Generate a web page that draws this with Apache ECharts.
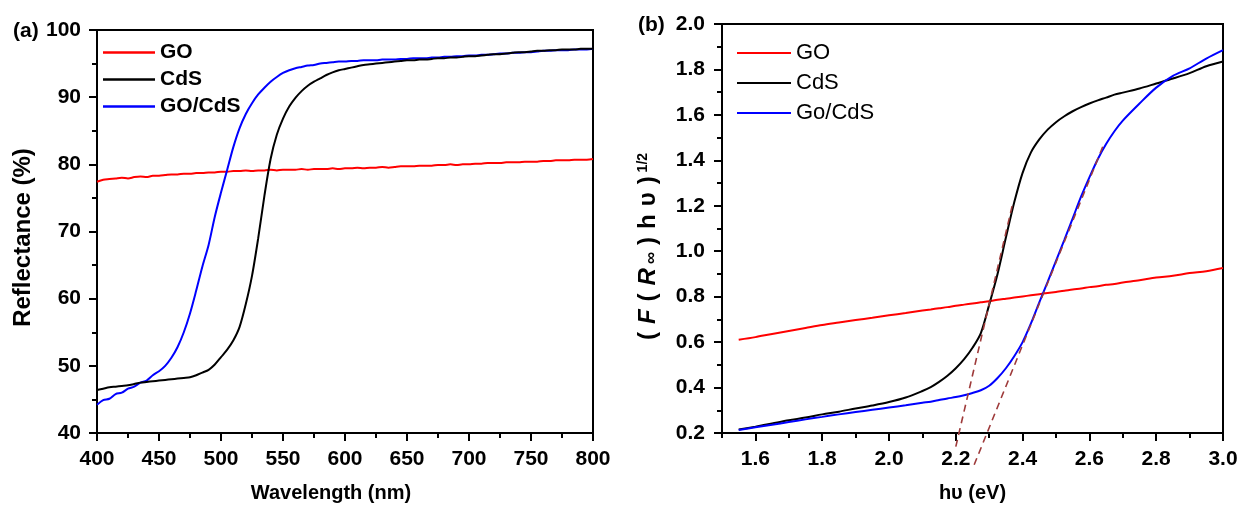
<!DOCTYPE html>
<html>
<head>
<meta charset="utf-8">
<script src="https://cdn.jsdelivr.net/npm/echarts@6/dist/echarts.min.js"></script>
<style>
  html, body { margin: 0; padding: 0; background: #fff; }
  #chart { width: 1242px; height: 508px; }
</style>
</head>
<body>
<div id="chart"></div>
<script>
// (a) diffuse reflectance spectra, wavelength in nm
const wavelength = [
  400,405,410,415,420,425,430,435,440,445,
  450,455,460,465,470,475,480,485,490,495,
  500,505,510,515,520,525,530,535,540,545,
  550,555,560,565,570,575,580,585,590,595,
  600,605,610,615,620,625,630,635,640,645,
  650,655,660,665,670,675,680,685,690,695,
  700,705,710,715,720,725,730,735,740,745,
  750,755,760,765,770,775,780,785,790,795,
  800
];
const reflGO = [
  77.4,77.7,77.8,77.9,78.0,77.9,78.1,78.2,78.1,78.3,
  78.3,78.4,78.5,78.5,78.6,78.6,78.7,78.7,78.8,78.8,
  78.9,78.9,79.0,79.0,79.1,79.0,79.1,79.1,79.2,79.1,
  79.2,79.2,79.2,79.3,79.2,79.3,79.3,79.3,79.4,79.3,
  79.4,79.4,79.5,79.4,79.5,79.5,79.6,79.5,79.6,79.7,
  79.7,79.7,79.8,79.8,79.8,79.9,79.9,80.0,79.9,80.0,
  80.0,80.1,80.1,80.2,80.2,80.2,80.3,80.3,80.3,80.4,
  80.4,80.4,80.5,80.5,80.6,80.6,80.6,80.7,80.7,80.7,
  80.8
];
const reflCdS = [
  46.4,46.6,46.8,46.9,47.0,47.1,47.3,47.5,47.6,47.7,
  47.8,47.9,48.0,48.1,48.2,48.3,48.6,49.0,49.4,50.2,
  51.3,52.4,53.8,55.8,59.2,63.4,69.0,75.3,80.8,84.4,
  86.8,88.6,89.9,90.9,91.7,92.3,92.8,93.3,93.7,94.0,
  94.2,94.4,94.6,94.8,94.9,95.0,95.1,95.2,95.3,95.4,
  95.5,95.5,95.6,95.6,95.7,95.8,95.8,95.9,95.9,96.0,
  96.1,96.1,96.2,96.3,96.4,96.4,96.5,96.6,96.7,96.7,
  96.8,96.9,96.9,97.0,97.0,97.1,97.1,97.1,97.2,97.2,
  97.2
];
const reflGOCdS = [
  44.2,44.9,45.1,45.8,46.0,46.6,46.9,47.5,47.8,48.6,
  49.2,50.0,51.2,52.8,55.0,57.8,61.2,64.8,68.0,72.2,
  75.8,79.2,82.6,85.4,87.5,89.1,90.4,91.4,92.3,93.0,
  93.6,94.0,94.3,94.5,94.7,94.8,95.0,95.1,95.2,95.3,
  95.3,95.4,95.4,95.5,95.5,95.5,95.6,95.6,95.6,95.7,
  95.7,95.8,95.8,95.8,95.9,95.9,96.0,96.0,96.1,96.1,
  96.2,96.2,96.3,96.3,96.4,96.5,96.5,96.6,96.6,96.7,
  96.7,96.8,96.9,96.9,97.0,97.0,97.0,97.1,97.1,97.1,
  97.2
];

// (b) Kubelka-Munk plot, photon energy in eV
const energy = [
  1.55,1.60,1.65,1.70,1.75,1.80,1.85,1.90,1.95,2.00,2.05,2.10,
  2.125,2.15,2.175,2.20,2.225,2.25,2.275,2.30,2.325,2.35,2.375,2.40,
  2.425,2.45,2.475,2.50,2.525,2.55,2.575,2.60,2.625,2.65,2.675,2.70,
  2.75,2.80,2.85,2.90,2.95,3.00
];
const kmGO = [
  0.610,0.622,0.636,0.649,0.662,0.675,0.686,0.697,0.707,0.718,0.728,0.739,
  0.744,0.749,0.754,0.760,0.765,0.770,0.775,0.780,0.786,0.791,0.796,0.801,
  0.806,0.811,0.816,0.821,0.826,0.832,0.836,0.842,0.846,0.852,0.856,0.862,
  0.872,0.884,0.892,0.904,0.912,0.926
];
const kmCdS = [
  0.215,0.228,0.242,0.256,0.268,0.282,0.294,0.308,0.321,0.336,0.356,0.385,
  0.402,0.425,0.452,0.485,0.525,0.575,0.640,0.765,0.900,1.060,1.215,1.345,
  1.435,1.492,1.535,1.568,1.594,1.616,1.634,1.650,1.664,1.676,1.689,1.698,
  1.716,1.738,1.760,1.784,1.814,1.835
];
const kmGOCdS = [
  0.213,0.225,0.236,0.248,0.260,0.271,0.282,0.292,0.302,0.312,0.322,0.333,
  0.338,0.345,0.352,0.358,0.366,0.376,0.388,0.408,0.442,0.485,0.538,0.600,
  0.682,0.775,0.865,0.958,1.050,1.145,1.240,1.325,1.405,1.472,1.528,1.575,
  1.650,1.720,1.772,1.805,1.848,1.885
];
// linear extrapolations of the absorption edges (band gap estimates)
const edgeCdS = [[2.20, 0.14], [2.372, 1.22]];
const edgeGOCdS = [[2.255, 0.06], [2.64, 1.46]];

// axis ticks of panel (b)
const energyMajorTicks = [1.6, 1.8, 2.0, 2.2, 2.4, 2.6, 2.8, 3.0];
const energyMinorTicks = [1.5, 1.7, 1.9, 2.1, 2.3, 2.5, 2.7, 2.9];

const FONT = "'Liberation Sans', Arial, sans-serif";
const BLACK = '#000';
const pairs = (xs, ys) => xs.map((x, i) => [x, ys[i]]);
const oneDecimal = v => Number(v).toFixed(1);

const axisLine = { lineStyle: { color: BLACK, width: 2 } };
const majorTick = { length: 8, lineStyle: { width: 2, color: BLACK } };
const minorTick = { show: true, splitNumber: 2, length: 5, lineStyle: { width: 2, color: BLACK } };
const tickLabel = { fontFamily: FONT, fontSize: 21, fontWeight: 'bold', color: BLACK };
const nameStyle = { fontFamily: FONT, fontSize: 20, fontWeight: 'bold', color: BLACK };

function curve(name, xs, ys, color, axisIdx) {
  return {
    type: 'line', name, data: pairs(xs, ys),
    xAxisIndex: axisIdx, yAxisIndex: axisIdx,
    symbol: 'none', smooth: 0.3,
    lineStyle: { color, width: 2 }, itemStyle: { color },
    emphasis: { disabled: true }
  };
}
function edge(name, pts) {
  return {
    type: 'line', name, data: pts,
    xAxisIndex: 1, yAxisIndex: 1, clip: false,
    symbol: 'none', silent: true,
    lineStyle: { color: '#9e3a3a', width: 1.6, type: [7, 5] },
    itemStyle: { color: '#9e3a3a' }
  };
}

// y title of panel (b): glyph-spaced rich text with italic F and R
const glyph = { fontFamily: FONT, fontSize: 24, fontWeight: 'bold', color: BLACK, padding: [0, 4, 0, 4] };
const kmTitleRich = {
  p: glyph,
  i: Object.assign({}, glyph, { fontStyle: 'italic' }),
  s: { fontFamily: FONT, fontSize: 17, color: BLACK, verticalAlign: 'bottom', padding: [0, 3, 0, 0] },
  sup: { fontFamily: FONT, fontSize: 14, color: BLACK, verticalAlign: 'top' }
};

const chart = echarts.init(document.getElementById('chart'), null, { renderer: 'canvas' });
chart.setOption({
  animation: false,
  backgroundColor: '#fff',
  textStyle: { fontFamily: FONT, color: BLACK },
  title: [
    { text: '(a)', left: 8, top: 16, textStyle: { fontFamily: FONT, fontSize: 21, fontWeight: 'bold', color: BLACK } },
    { text: '(b)', left: 633, top: 10, textStyle: { fontFamily: FONT, fontSize: 21, fontWeight: 'bold', color: BLACK } }
  ],
  grid: [
    { left: 97, top: 30, width: 496, height: 403, show: true, borderColor: BLACK, borderWidth: 2 },
    { left: 722, top: 24, width: 501, height: 409, show: true, borderColor: BLACK, borderWidth: 2 }
  ],
  legend: [
    {
      data: ['GO', 'CdS', 'GO/CdS'], orient: 'vertical', left: 98, top: 37,
      icon: 'rect', itemWidth: 52, itemHeight: 2.5, itemGap: 6, selectedMode: false,
      textStyle: { fontFamily: FONT, fontSize: 21, fontWeight: 'bold', color: BLACK }
    },
    {
      data: ['GO', 'CdS', 'Go/CdS'], orient: 'vertical', left: 732, top: 37,
      icon: 'rect', itemWidth: 54, itemHeight: 2, itemGap: 8, selectedMode: false,
      textStyle: { fontFamily: FONT, fontSize: 22, fontWeight: 'normal', color: BLACK }
    }
  ],
  xAxis: [
    {
      type: 'value', gridIndex: 0, position: 'bottom', min: 400, max: 800, interval: 50,
      name: 'Wavelength (nm)', nameLocation: 'middle', nameGap: 50,
      nameTextStyle: Object.assign({ padding: [0, 28, 0, 0] }, nameStyle),
      axisLine, axisTick: majorTick, minorTick,
      axisLabel: Object.assign({ margin: 16 }, tickLabel),
      splitLine: { show: false }, minorSplitLine: { show: false }
    },
    {
      type: 'value', gridIndex: 1, position: 'bottom', min: 1.5, max: 3.0,
      name: 'h\u03c5 (eV)', nameLocation: 'middle', nameGap: 50, nameTextStyle: nameStyle,
      axisLine,
      axisTick: Object.assign({ customValues: energyMajorTicks }, majorTick),
      axisLabel: Object.assign({ customValues: energyMajorTicks, formatter: oneDecimal, margin: 16 }, tickLabel),
      splitLine: { show: false }
    },
    {
      type: 'value', gridIndex: 1, position: 'bottom', min: 1.5, max: 3.0,
      axisLine: { show: false },
      axisTick: { customValues: energyMinorTicks, length: 5, lineStyle: { width: 2, color: BLACK } },
      axisLabel: { show: false }, splitLine: { show: false }
    }
  ],
  yAxis: [
    {
      type: 'value', gridIndex: 0, min: 40, max: 100, interval: 10,
      name: 'Reflectance (%)', nameLocation: 'middle', nameRotate: 90, nameGap: 62,
      nameTextStyle: Object.assign({}, nameStyle, { fontSize: 24, padding: [0, 12, 0, 0] }),
      axisLine, axisTick: majorTick, minorTick,
      axisLabel: Object.assign({ margin: 16 }, tickLabel),
      splitLine: { show: false }, minorSplitLine: { show: false }
    },
    {
      type: 'value', gridIndex: 1, min: 0.2, max: 2.0, interval: 0.2,
      name: '{p|(}{i|F}{p|(}{i|R}{s|\u221e}{p|)}{p|h}{p|\u03c5}{p|)}{sup|1/2}',
      nameLocation: 'middle', nameRotate: 90, nameGap: 62,
      nameTextStyle: {
        fontFamily: FONT, fontSize: 24, fontWeight: 'bold', color: BLACK, padding: [0, 40, 0, 0],
        rich: kmTitleRich
      },
      axisLine, axisTick: majorTick, minorTick,
      axisLabel: Object.assign({ margin: 17, formatter: oneDecimal }, tickLabel),
      splitLine: { show: false }, minorSplitLine: { show: false }
    }
  ],
  series: [
    curve('GO', wavelength, reflGO, '#ff0000', 0),
    curve('GO/CdS', wavelength, reflGOCdS, '#0000ff', 0),
    curve('CdS', wavelength, reflCdS, '#000000', 0),
    curve('GO', energy, kmGO, '#ff0000', 1),
    curve('CdS', energy, kmCdS, '#000000', 1),
    curve('Go/CdS', energy, kmGOCdS, '#0000ff', 1),
    edge('CdS edge', edgeCdS),
    edge('Go/CdS edge', edgeGOCdS)
  ]
});
</script>
</body>
</html>
